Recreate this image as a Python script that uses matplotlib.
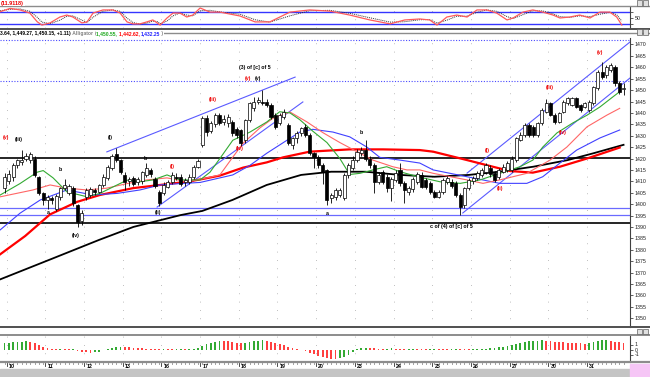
import matplotlib
matplotlib.use('Agg')
import matplotlib.pyplot as plt
from matplotlib.lines import Line2D
from matplotlib.patches import Rectangle
from matplotlib.transforms import blended_transform_factory

plt.rcParams['font.family'] = ['Liberation Sans', 'DejaVu Sans']

# Candles (hourly bars, 9 per day)
opens = [1407, 1410, 1412, 1417, 1418.5, 1420, 1419.3, 1420, 1412, 1404.7,
         1402, 1402.5, 1398, 1403.2, 1407, 1405, 1407, 1399.6, 1392.5, 1403.2,
         1404, 1406, 1405.5, 1408.4, 1411.5, 1416, 1422, 1419.3, 1412.8, 1410,
         1411.5, 1409.5, 1410, 1412.8, 1415, 1411, 1405.4, 1404.7, 1407.5, 1409.8,
         1412, 1412, 1409.5, 1409.8, 1412, 1416.4, 1425.9, 1437.6, 1432, 1435,
         1439.1, 1436, 1435.4, 1436.1, 1433, 1432.5, 1428.1, 1436.9, 1442, 1444.9,
         1445, 1444.9, 1443.5, 1439.1, 1435.4, 1438.3, 1434.7, 1425.9, 1428.9, 1431,
         1433.9, 1430.3, 1422.3, 1420.8, 1417.1, 1415, 1402.5, 1403.2, 1403.8, 1402.5,
         1412.8, 1416, 1419.3, 1422.5, 1423.7, 1420, 1417.1, 1409.8, 1414.2, 1412,
         1406.9, 1410.6, 1415, 1409.1, 1405.4, 1406.5, 1409.5, 1412.8, 1410.6, 1409.1,
         1405.4, 1403.2, 1405.4, 1409.8, 1409.8, 1409.1, 1404, 1399.6, 1406.9, 1410,
         1411.3, 1412.8, 1414, 1416, 1413.5, 1412, 1414.2, 1415, 1415, 1419.3,
         1428.1, 1430.3, 1434.7, 1433.9, 1430.3, 1435.4, 1440.5, 1444.2, 1439.1, 1436.1,
         1440.5, 1444.2, 1443.5, 1446.4, 1443.5, 1442.7, 1441.3, 1444.2, 1450.8, 1458.1,
         1456.6, 1458.8, 1460.3, 1453, 1450.5]
highs = [1413.5, 1415, 1418, 1420, 1423.7, 1422.5, 1423, 1421, 1412.5, 1405.5,
         1404, 1403.5, 1404.5, 1407.5, 1411, 1409, 1408, 1400, 1397.5, 1407,
         1407.5, 1407, 1409, 1413, 1417, 1422, 1424.5, 1420, 1414, 1412,
         1412.5, 1412, 1414.5, 1418, 1416, 1412, 1406, 1409.5, 1410.5, 1414,
         1413.5, 1413, 1411.5, 1413, 1417, 1420, 1438.5, 1439, 1436.5, 1440,
         1440, 1439, 1439.5, 1437, 1434, 1433, 1437.5, 1445, 1447, 1447,
         1450, 1446, 1444.5, 1440, 1440, 1441.5, 1435.5, 1429.5, 1432, 1434,
         1435, 1431, 1423, 1421.5, 1418, 1415.5, 1405, 1407, 1407, 1413.5,
         1418, 1421, 1424, 1425, 1428, 1421, 1418, 1414, 1415, 1413,
         1412, 1415, 1418, 1410, 1408, 1412, 1414, 1414, 1411.5, 1410,
         1406, 1406, 1411.5, 1412.5, 1411, 1410, 1405, 1407.5, 1411.5, 1412.5,
         1414.5, 1416, 1418, 1417, 1414.5, 1416, 1417.5, 1419, 1421, 1429.5,
         1431.5, 1435.5, 1435.5, 1434.5, 1436, 1442, 1446, 1445, 1440, 1440.5,
         1445.5, 1447, 1447, 1447, 1444, 1445, 1445.5, 1452, 1459, 1462.5,
         1461, 1462, 1461, 1454, 1453]
lows = [1405, 1409, 1410, 1416, 1417, 1419, 1418, 1412, 1404, 1399.6,
        1398, 1400, 1397, 1402, 1406, 1404, 1399, 1390, 1391, 1402,
        1403, 1404, 1405, 1407.5, 1410.5, 1415, 1418.5, 1413, 1406, 1408,
        1408, 1408.5, 1409, 1412, 1412, 1407, 1399, 1404, 1407, 1409,
        1410.5, 1408, 1408, 1409, 1411, 1416, 1425, 1430, 1431, 1434,
        1434.5, 1434.7, 1434, 1430, 1429, 1425.5, 1427, 1436, 1441, 1444,
        1443.5, 1442.5, 1437.5, 1433, 1434.5, 1437.5, 1425.9, 1424, 1427, 1430,
        1429.5, 1421.5, 1416, 1416, 1409, 1399.6, 1400.5, 1402, 1403, 1402,
        1411.5, 1415, 1418.5, 1421, 1419, 1416, 1405, 1409, 1409, 1405.5,
        1401.5, 1409.5, 1408, 1400.5, 1404, 1405.5, 1409, 1407, 1406.5, 1404.5,
        1402.5, 1402.5, 1404.5, 1409, 1407, 1403, 1395.2, 1398.5, 1406, 1409,
        1410.5, 1412, 1413, 1412, 1409.5, 1411, 1413.5, 1414, 1414, 1418.5,
        1427.5, 1429.5, 1429.5, 1429.5, 1429.5, 1434.5, 1440, 1438.5, 1435, 1435.5,
        1440, 1443.5, 1443, 1442, 1440.5, 1442, 1440.5, 1443.5, 1450, 1455,
        1455.5, 1458, 1452, 1448.5, 1448]
closes = [1412, 1413, 1417, 1419.3, 1419.5, 1421, 1422, 1412.8, 1404.7, 1401.8,
          1403, 1402, 1403.5, 1406.9, 1408.4, 1408, 1400.4, 1392.3, 1396, 1406,
          1406.5, 1405.5, 1408.4, 1412, 1416.4, 1421, 1419.3, 1414, 1409.8, 1411,
          1409, 1411, 1414, 1416, 1413, 1408, 1400.4, 1408.4, 1409.8, 1412.8,
          1411.5, 1409, 1410.5, 1412, 1416.4, 1419, 1437.6, 1431.8, 1435.4, 1439.1,
          1435.4, 1437.5, 1438.3, 1431, 1430.3, 1426.7, 1436.9, 1444.2, 1444.9, 1445.5,
          1444.5, 1443.5, 1438.3, 1433.9, 1439.1, 1440.5, 1426.7, 1428.9, 1431, 1433.2,
          1430.3, 1422.3, 1420.8, 1417.1, 1414.2, 1402, 1404, 1406.2, 1406.2, 1412.8,
          1417.1, 1419.5, 1423, 1423.7, 1420, 1417.1, 1409.8, 1412.8, 1409.8, 1407,
          1411, 1413.5, 1409.1, 1406.2, 1406.9, 1411, 1413, 1407.6, 1407.6, 1405.4,
          1403.2, 1405.4, 1410.6, 1411.3, 1408, 1404, 1398.9, 1406.9, 1410.6, 1411.3,
          1413.5, 1415, 1417.1, 1413, 1410.6, 1415, 1416.4, 1417.9, 1420, 1428.9,
          1430.3, 1434.7, 1430.3, 1430.3, 1435.4, 1441.3, 1444.2, 1439.1, 1436.1, 1439.8,
          1444.9, 1446.4, 1446.4, 1442.7, 1441.3, 1444.2, 1444.9, 1451.5, 1458.1, 1455.9,
          1460.3, 1461, 1453, 1449.3, 1451]

day_labels = ['10', '11', '12', '13', '16', '17', '18', '19',
              '20', '23', '24', '25', '26', '27', '30', '31']

# Alligator (lips / teeth / jaw), read at bar positions
lips_pos = [-1, 3.6, 7.6, 9, 11.3, 14.5, 19.2, 22.2, 25.2, 28.5, 31.5, 34.5, 37.8, 40.8, 45.5,
            47.8, 50.1, 53.1, 57.1, 61, 64, 66.4, 68.7, 71.7, 75, 78, 80.3, 82.7, 85.7, 88.9,
            92, 96.6, 101.3, 106, 110.6, 115.2, 119.9, 122.9, 125.2, 128.5, 132.2, 135.5,
            138.5, 141.5, 143.1]
lips = [1404, 1409, 1414, 1414.7, 1411.5, 1405.4, 1403.2, 1404.7, 1407.5, 1410.5, 1409.8,
        1410.6, 1412.8, 1410.6, 1410.6, 1414, 1420, 1428, 1431.6, 1436, 1440.5, 1440, 1437,
        1432, 1427, 1420, 1413, 1413.5, 1415, 1416.4, 1414.2, 1411.8, 1409.8, 1409.1, 1410.6,
        1413.5, 1416.4, 1419.3, 1425, 1431.2, 1435.6, 1439, 1442.6, 1447, 1449.3]
teeth_pos = [-1, 6.6, 10.6, 14.5, 19.2, 23.8, 28.5, 33.1, 37.8, 42.4, 47.1, 50.1, 53.1, 55.5,
             59.4, 62.4, 66.4, 70.3, 74.1, 78, 82, 85.7, 90.3, 93.6, 96.6, 99.7, 107.6, 111.3,
             115.2, 121.5, 126.9, 130.8, 135.5, 140.1, 143.1]
teeth = [1403.2, 1406.2, 1408.4, 1407, 1406.2, 1407, 1409, 1410.6, 1411.5, 1409.8, 1411.5,
         1412.8, 1420.6, 1426.7, 1433.4, 1437.6, 1440.4, 1436.1, 1431.3, 1427, 1423, 1419.3,
         1416.4, 1415, 1415, 1413.5, 1410.6, 1409.1, 1410.6, 1413.5, 1419.3, 1425, 1433.9,
         1439, 1442]
jaw_pos = [-1, 3.6, 8.3, 14.5, 20.6, 26.2, 31.5, 36.2, 40.8, 45.5, 53.1, 57.1, 61, 65.7, 68.7,
           71.7, 76.4, 80.3, 84.3, 87.3, 92, 96.6, 99.7, 107.6, 115.2, 121.5, 125.2, 129.2,
           133.1, 138.5, 143.1]
jaw = [1388.7, 1396, 1401.8, 1406.2, 1404, 1404.7, 1406.2, 1408.4, 1409, 1409.5, 1412.8, 1417,
       1422.3, 1428, 1431.6, 1432.8, 1431.6, 1429.5, 1425, 1420.5, 1419.3, 1418, 1415, 1412,
       1409.1, 1409.1, 1412, 1418, 1423.7, 1429, 1432.5]

# Long averages
ma_red_pos = [-1, 4.8, 10.6, 16.9, 22.2, 29.9, 36.2, 42.4, 45.5, 50.1, 55.5, 61, 64.8, 71,
              80.3, 88, 96.6, 99.7, 107.6, 113.6, 117.6, 122.9, 129.2, 135.5, 143.1]
ma_red = [1378, 1386, 1395.5, 1401, 1404, 1407, 1408.4, 1409.8, 1410.8, 1412.5, 1416, 1418.3,
          1420.5, 1423, 1424, 1424, 1423.7, 1423, 1419.3, 1416.4, 1414.5, 1413.8, 1416.4, 1420,
          1424.8]
ma_black_pos = [-1, 11, 22, 30, 41, 46, 53, 61, 69, 76, 84, 92, 100, 108, 115, 123, 131, 137, 144]
ma_black = [1367, 1376, 1384.3, 1390, 1395.2, 1397, 1401.8, 1408.4, 1412.8, 1414.2, 1414.2,
            1412.8, 1412, 1412.8, 1414.2, 1416.4, 1419.3, 1422.3, 1426]

# Trend channels: (start pos, start price, end pos, end price)
channels = [(23.8, 1422.9, 67.6, 1455.7), (35.5, 1398.7, 69.4, 1444.8),
            (107.6, 1413.6, 145.5, 1471.1), (106.6, 1396.1, 145.5, 1455.3)]
black_levels = [1420.2, 1391.8]
blue_levels = [1398.2, 1395.2]
dotted_levels = [1453.8, 1472]

# Wave labels: (pos, price, text, colour)
waves = [(0.4, 1429, '(v)', 'red'), (3.4, 1428.5, '(iii)', 'black'),
         (12.9, 1415, 'b', 'black'), (10.1, 1396.5, 'a', 'black'),
         (16.6, 1386.4, '(iv)', 'black'), (24.5, 1429, '(i)', 'black'),
         (32.7, 1420.2, 'b', 'black'), (35.7, 1396.5, '(ii)', 'black'),
         (39, 1416.3, '(i)', 'red'), (48.5, 1445.7, '(iii)', 'red'),
         (54.8, 1424.6, '(iv)', 'red'), (56.6, 1454.9, '(v)', 'red'),
         (59, 1454.9, '(v)', 'black'), (58.3, 1459.7, '(3) of [c] of 5', 'black'),
         (75.2, 1396, 'a', 'black'), (83.1, 1431.6, 'b', 'black'),
         (104, 1390, 'c of (4) of [c] of 5', 'black'), (112.4, 1423.7, '(i)', 'red'),
         (115.2, 1407, '(ii)', 'red'), (126.9, 1451, '(iii)', 'red'),
         (129.9, 1431.6, '(iv)', 'red'), (138.5, 1466.7, '(v)', 'red')]

# Top oscillator
osc_pos = [-1.0, 1.3, 3.6, 5.9, 7.6, 8.7, 10.6, 12.9, 14.5, 15.9, 18.0, 19.2, 20.6, 22.9, 25.2,
           26.9, 28.5, 29.9, 31.5, 33.1, 34.5, 35.5, 36.2, 37.8, 39.2, 40.8, 42.4, 43.8, 45.5,
           47.8, 50.1, 54.8, 58.3, 61.7, 66.4, 71.0, 75.7, 80.3, 85.0, 89.7, 93.1, 96.6, 98.9,
           100.6, 102.9, 105.2, 107.6, 109.9, 112.2, 114.5, 116.9, 118.3, 120.6, 122.9, 125.2,
           127.6, 129.2, 131.5, 133.8, 136.2, 138.5, 140.8, 142.4, 143.6]
osc_fast = [83, 100, 92, 76, 32, 15, 26, 56, 66, 56, 26, 31, 76, 92, 92, 76, 31, 21, 21, 31,
            41, 26, 15, 51, 76, 76, 56, 66, 102, 81, 81, 61, 31, 31, 81, 92, 86, 66, 41, 21,
            41, 46, 41, 15, 56, 66, 56, 92, 92, 76, 41, 51, 81, 92, 81, 66, 51, 56, 66, 51,
            81, 81, 56, 15]
osc_slow = [88, 95, 97, 85, 55, 30, 22, 40, 60, 62, 40, 28, 55, 85, 92, 85, 50, 28, 20, 25,
            35, 33, 22, 35, 62, 76, 66, 62, 88, 90, 82, 70, 42, 30, 62, 88, 90, 75, 52, 30,
            32, 42, 43, 25, 40, 60, 60, 80, 92, 85, 58, 48, 68, 88, 87, 72, 58, 54, 62, 58,
            70, 80, 68, 35]

# Bottom histogram
hist = [1.3, 1.4, 1.5, 1.55, 1.6, 1.65, 1.5, 1.3, 1.0, 0.6,
        0.3, 0.2, 0.1, 0.15, 0.1, 0.05, 0.1, -0.2, -0.4, -0.55,
        -0.6, -0.5, -0.4, -0.1, 0.2, 0.4, 0.55, 0.6, 0.55, 0.5,
        0.4, 0.35, 0.3, 0.2, 0.15, 0.1, 0.05, 0.1, 0.05, 0.02,
        0.05, 0.1, 0.08, 0.12, 0.2, 0.4, 0.8, 1.1, 1.4, 1.6,
        1.8, 1.75, 1.65, 1.55, 1.4, 1.3, 1.4, 1.55, 1.7, 1.8,
        1.85, 1.75, 1.6, 1.4, 1.2, 0.9, 0.6, 0.3, 0.1, 0.0,
        -0.3, -0.6, -0.9, -1.2, -1.5, -1.7, -1.85, -1.95, -1.7, -1.4,
        -1.0, -0.5, 0.2, 0.3, 0.35, 0.3, 0.25, 0.2, 0.15, 0.2,
        0.25, 0.2, 0.15, 0.1, 0.15, 0.2, 0.15, 0.1, 0.08, 0.1,
        0.12, 0.1, 0.05, 0.03, 0.06, 0.1, 0.08, 0.05, 0.04, 0.08,
        0.12, 0.15, 0.2, 0.3, 0.4, 0.5, 0.6, 0.8, 1.0, 1.2,
        1.4, 1.55, 1.65, 1.75, 1.8, 1.85, 1.8, 1.7, 1.6, 1.5,
        1.45, 1.4, 1.35, 1.3, 1.25, 1.2, 1.4, 1.6, 1.8, 1.95,
        2.0, 1.8, 1.6, 1.5, 1.4]

W, H = 650, 377
BARS_PER_DAY = 9


def box(x0, y0, x1, y1):
    return [x0 / W, 1 - y1 / H, (x1 - x0) / W, (y1 - y0) / H]


def fig_line(xs, ys, **kw):
    fig.add_artist(Line2D([x / W for x in xs], [1 - y / H for y in ys],
                          transform=fig.transFigure, **kw))


fig = plt.figure(figsize=(W / 100, H / 100), dpi=100)
ax_top = fig.add_axes(box(0, 7, 630, 28))
ax = fig.add_axes(box(0, 38, 630, 327))
ax_bot = fig.add_axes(box(0, 336, 630, 362))

n = len(closes)
xs = list(range(n))
day_pos = [0.5 + BARS_PER_DAY * d for d in range(len(day_labels))]
XLIM = (-1.05, 145.5)

for a in (ax_top, ax, ax_bot):
    a.set_xlim(*XLIM)
    for s in ('left', 'top', 'bottom'):
        a.spines[s].set_visible(False)
    a.spines['right'].set_color('#404040')
    a.spines['right'].set_linewidth(0.8)
    a.yaxis.tick_right()
    a.tick_params(axis='y', labelsize=3.8, length=2, width=0.5, pad=1.5, colors='#202020')
    a.set_xticks([])
    for p in day_pos:
        a.axvline(p, color='#a8a8a8', lw=0.6, ls=(0, (1, 9)), zorder=0)

# Main price panel
ax.set_ylim(1346.1, 1472.85)
ax.set_yticks(range(1350, 1471, 5))

for y in dotted_levels:
    ax.axhline(y, color='#4a4aff', lw=0.8, ls=(0, (1, 1.5)), zorder=1)
for y in blue_levels:
    ax.axhline(y, color='#6a6aff', lw=0.9, zorder=1)
for y in black_levels:
    ax.axhline(y, color='black', lw=1.2, zorder=1)
for x0, y0, x1, y1 in channels:
    ax.plot([x0, x1], [y0, y1], color='#5a5aff', lw=0.8, zorder=2)

ax.plot(ma_black_pos, ma_black, color='black', lw=1.3, zorder=2)
ax.plot(ma_red_pos, ma_red, color='#ff0000', lw=1.6, zorder=2)
ax.plot(jaw_pos, jaw, color='#4040ff', lw=0.8, zorder=2)
ax.plot(teeth_pos, teeth, color='#ff6666', lw=0.8, zorder=2)
ax.plot(lips_pos, lips, color='#33aa33', lw=0.8, zorder=2)

ax.vlines(xs, lows, highs, color='black', lw=0.6, zorder=3)
bottoms = [min(o, c) for o, c in zip(opens, closes)]
heights = [max(abs(c - o), 0.25) for o, c in zip(opens, closes)]
faces = ['black' if c < o else 'white' for o, c in zip(opens, closes)]
ax.bar(xs, heights, bottom=bottoms, width=0.72, color=faces, edgecolor='black',
       linewidth=0.5, zorder=4)

for p, y, t, c in waves:
    ax.text(p, y, t, color='#ee0000' if c == 'red' else 'black', fontsize=3.8,
            fontweight='bold', ha='center', va='center', zorder=5)

# Top oscillator
ax_top.set_ylim(0, 107)
ax_top.set_yticks([20, 50, 80])
ax_top.set_yticklabels(['', '50', ''])
for y in (80, 20):
    ax_top.axhline(y, color='#3535ff', lw=1.0, zorder=1)
ax_top.plot(osc_pos, osc_slow, color='#303030', lw=0.7, ls=(0, (1, 1)), zorder=2)
ax_top.plot(osc_pos, osc_fast, color='#ff5a5a', lw=0.9, zorder=3)

# Bottom histogram
ax_bot.set_ylim(-2.5, 2.7)
ax_bot.set_yticks([1, 0, -1])
ax_bot.set_yticklabels(['1', '0', '-1'])
bar_cols = ['#33aa33' if i == 0 or hist[i] >= hist[i - 1] else '#ff4040' for i in range(n)]
ax_bot.bar(xs, hist, width=0.42, color=bar_cols, zorder=2)

# Date axis
tr = blended_transform_factory(ax_bot.transData, ax_bot.transAxes)
for p, lab in zip(day_pos, day_labels):
    ax_bot.plot([p, p], [-0.02, -0.16], color='#303030', lw=0.6, transform=tr, clip_on=False)
    ax_bot.text(p + 0.5, -0.17, lab, transform=tr, fontsize=3.8, fontweight='bold',
                ha='left', va='center')
for i in xs:
    ax_bot.plot([i, i], [-0.02, -0.09], color='#303030', lw=0.4, transform=tr, clip_on=False)

# Frames and header rows
fig.add_artist(Rectangle((0, 0), 1, 8 / H, transform=fig.transFigure, color='#c4c4c4', zorder=-1))
fig.add_artist(Rectangle((630 / W, 0), 20 / W, 13 / H, transform=fig.transFigure,
                         color='#f6c6f6', zorder=0))
fig_line([0, W], [5.5, 5.5], color='#8c8c8c', lw=1.0)
fig_line([0, W], [28.5, 28.5], color='#505050', lw=1.4)
fig_line([0, W], [33, 33], color='#8c8c8c', lw=1.0)
fig_line([0, W], [327.3, 327.3], color='#505050', lw=1.4)
fig_line([0, W], [335, 335], color='#8c8c8c', lw=1.4)
fig_line([0, W], [362, 362], color='#8c8c8c', lw=1.6)
for yy in (3, 32, 331.5):
    for xx in (636.5, 643):
        fig.add_artist(Rectangle((xx / W, 1 - (yy + 2.5) / H), 5 / W, 5 / H,
                                 transform=fig.transFigure, facecolor='#e0e0e0',
                                 edgecolor='#606060', lw=0.5, zorder=5))

fig.text(1 / W, 1 - 3 / H, '(11.9118)', color='#ee0000', fontsize=4, fontweight='bold',
         va='center', ha='left', bbox=dict(facecolor='white', edgecolor='none', pad=0.5))

# Alligator header in several colours
pieces = [('3.64, 1,449.27, 1,450.15, +1.11)', 'black'), (' Alligator ', '#808080'),
          ('(', '#808080'), ('1,450.55, ', '#22aa22'), ('1,442.62, ', '#ff0000'),
          ('1,432.25', '#2222ff'), (' )', '#808080')]
renderer = fig.canvas.get_renderer()
xpos = 0.5 / W
for txt, col in pieces:
    t = fig.text(xpos, 1 - 33.5 / H, txt, color=col, fontsize=3.6, fontweight='bold',
                 va='center', ha='left',
                 bbox=dict(facecolor='white', edgecolor='none', pad=0.3))
    bb = t.get_window_extent(renderer)
    xpos = bb.x1 / W

fig.savefig('out.png', dpi=100)
